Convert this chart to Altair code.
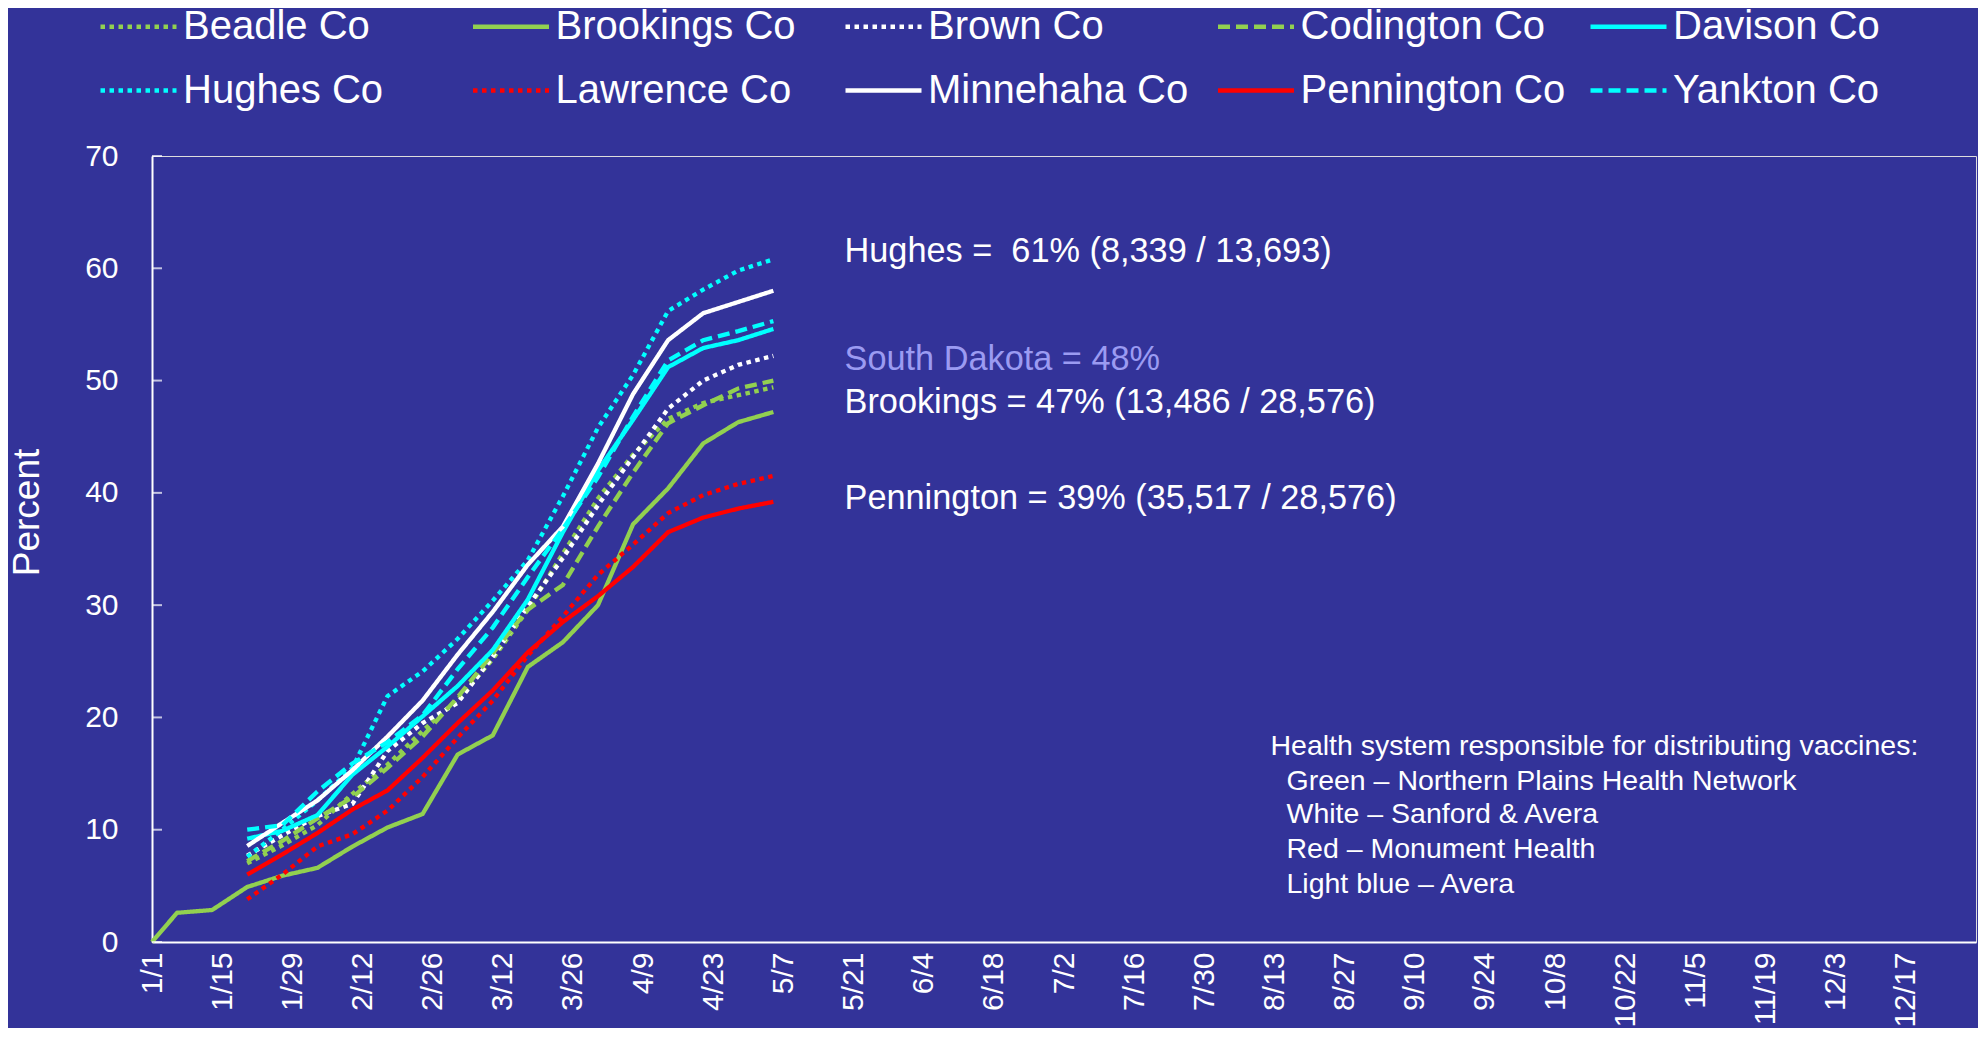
import altair as alt
import pandas as pd

# ---------------- data ----------------
SERIES = ["Beadle Co", "Brookings Co", "Brown Co", "Codington Co", "Davison Co",
          "Hughes Co", "Lawrence Co", "Minnehaha Co", "Pennington Co", "Yankton Co"]

BROOKINGS_DATES = ["2021-01-01", "2021-01-06", "2021-01-13", "2021-01-20", "2021-01-27",
                   "2021-02-03", "2021-02-10", "2021-02-17", "2021-02-24", "2021-03-03",
                   "2021-03-10", "2021-03-17", "2021-03-24", "2021-03-31", "2021-04-07",
                   "2021-04-14", "2021-04-21", "2021-04-28", "2021-05-05"]
WEEKLY_DATES = ["2021-01-20", "2021-01-27", "2021-02-03", "2021-02-10", "2021-02-17",
                "2021-02-24", "2021-03-03", "2021-03-10", "2021-03-17", "2021-03-24",
                "2021-03-31", "2021-04-07", "2021-04-14", "2021-04-21", "2021-04-28",
                "2021-05-05"]

BEADLE = [7.0, 8.6, 10.4, 13.2, 15.8, 18.8, 21.6, 25.2, 29.6, 34.6, 39.5, 43.4, 46.6, 48.0, 48.7, 49.4]
BROOKINGS = [0.0, 2.6, 2.85, 4.9, 5.9, 6.6, 8.5, 10.2, 11.4, 16.7, 18.4, 24.5, 26.7, 30.0, 37.2, 40.4, 44.4, 46.3, 47.2]
BROWN = [7.7, 9.5, 11.2, 12.3, 17.0, 19.5, 21.3, 25.4, 29.9, 34.2, 38.9, 43.2, 47.5, 50.0, 51.4, 52.2]
CODINGTON = [7.2, 9.0, 11.0, 12.9, 15.5, 18.3, 21.8, 25.7, 29.6, 31.8, 37.0, 41.8, 46.2, 47.8, 49.3, 50.0]
DAVISON = [9.2, 9.9, 11.3, 14.9, 17.4, 20.1, 22.8, 26.0, 30.5, 36.5, 42.0, 46.5, 51.2, 52.9, 53.6, 54.6]
HUGHES = [7.6, 10.0, 12.6, 15.5, 21.9, 24.1, 27.0, 30.4, 34.0, 39.7, 45.8, 50.5, 56.2, 58.1, 59.8, 60.8]
LAWRENCE = [3.8, 6.0, 8.5, 9.6, 11.7, 14.7, 18.2, 21.5, 25.5, 29.0, 32.7, 35.4, 38.2, 39.8, 40.8, 41.5]
MINNEHAHA = [8.55, 10.6, 12.6, 15.3, 18.3, 21.5, 25.6, 29.4, 33.6, 37.0, 42.6, 48.8, 53.6, 56.0, 57.0, 58.0]
PENNINGTON = [6.0, 7.8, 9.7, 11.8, 13.5, 16.4, 19.5, 22.4, 25.8, 28.5, 30.8, 33.4, 36.5, 37.8, 38.6, 39.2]
YANKTON = [10.0, 10.4, 13.4, 15.9, 17.8, 20.2, 24.3, 28.0, 32.5, 36.8, 41.4, 46.8, 51.8, 53.6, 54.4, 55.3]

X_TICK_DATES = ["2021-01-01", "2021-01-15", "2021-01-29", "2021-02-12", "2021-02-26",
                "2021-03-12", "2021-03-26", "2021-04-09", "2021-04-23", "2021-05-07",
                "2021-05-21", "2021-06-04", "2021-06-18", "2021-07-02", "2021-07-16",
                "2021-07-30", "2021-08-13", "2021-08-27", "2021-09-10", "2021-09-24",
                "2021-10-08", "2021-10-22", "2021-11-05", "2021-11-19", "2021-12-03",
                "2021-12-17"]
Y_TICKS = [0, 10, 20, 30, 40, 50, 60, 70]

COUNTY_NOTES = ["Hughes = \u00a061% (8,339 / 13,693)",
                "Brookings = 47% (13,486 / 28,576)",
                "Pennington = 39% (35,517 / 28,576)"]
COUNTY_NOTE_DATES = ["2021-05-19", "2021-05-19", "2021-05-19"]
COUNTY_NOTE_VALUES = [60.6, 47.1, 38.6]
STATE_NOTE = ["South Dakota = 48%"]
STATE_NOTE_DATES = ["2021-05-19"]
STATE_NOTE_VALUES = [50.9]
HEALTH_TITLE = ["Health system responsible for distributing vaccines:"]
HEALTH_TITLE_DATES = ["2021-08-12"]
HEALTH_TITLE_VALUES = [16.65]
HEALTH_LINES = ["Green \u2013 Northern Plains Health Network",
                "White \u2013 Sanford & Avera",
                "Red \u2013 Monument Health",
                "Light blue \u2013 Avera"]
HEALTH_LINE_DATES = ["2021-08-15", "2021-08-15", "2021-08-15", "2021-08-15"]
HEALTH_LINE_VALUES = [13.54, 10.57, 7.45, 4.39]

# ---------------- styles ----------------
BG = "#333399"
FONT = "Liberation Sans"
GREEN, WHITE, CYAN, RED = "#92D050", "#FFFFFF", "#00FFFF", "#FF0000"
COLORS = [GREEN, GREEN, WHITE, GREEN, CYAN, CYAN, RED, WHITE, RED, CYAN]
DOT, DASH, SOLID = [4.5, 4.5], [12, 6], [1, 0]
DASHES = [DOT, SOLID, DOT, DASH, SOLID, DOT, DOT, SOLID, SOLID, DASH]

# ---------------- tables ----------------
values_by_series = {
    "Beadle Co": (WEEKLY_DATES, BEADLE),
    "Brookings Co": (BROOKINGS_DATES, BROOKINGS),
    "Brown Co": (WEEKLY_DATES, BROWN),
    "Codington Co": (WEEKLY_DATES, CODINGTON),
    "Davison Co": (WEEKLY_DATES, DAVISON),
    "Hughes Co": (WEEKLY_DATES, HUGHES),
    "Lawrence Co": (WEEKLY_DATES, LAWRENCE),
    "Minnehaha Co": (WEEKLY_DATES, MINNEHAHA),
    "Pennington Co": (WEEKLY_DATES, PENNINGTON),
    "Yankton Co": (WEEKLY_DATES, YANKTON),
}
rows = []
for name in SERIES:
    dates, vals = values_by_series[name]
    for d, v in zip(dates, vals):
        rows.append({"series": name, "date": d, "pct": v})
df = pd.DataFrame(rows)
df["date"] = pd.to_datetime(df["date"])


def note_df(texts, dates, vals):
    return pd.DataFrame({"text": texts, "date": pd.to_datetime(dates), "pct": vals})


def dt(s):
    y, m, d = (int(p) for p in s.split("-"))
    return alt.DateTime(year=y, month=m, date=d)


x_scale = alt.Scale(domain=[dt("2021-01-01"), dt("2021-12-31")])
y_scale = alt.Scale(domain=[0, 70], nice=False)

legend = alt.Legend(
    title=None, orient="none", legendX=-54, legendY=-170,
    direction="horizontal", columns=5, gridAlign="all",
    symbolType="stroke", symbolSize=5776, symbolStrokeWidth=4.5,
    labelFontSize=40, labelColor="white", labelFont=FONT, labelOffset=4,
    labelLimit=600, columnPadding=15.5, rowPadding=3, padding=0,
)

x_axis = alt.Axis(
    values=[dt(s) for s in X_TICK_DATES], format="%-m/%-d", labelAngle=270,
    labelAlign="right", labelBaseline="middle", labelPadding=10,
    labelFontSize=30, labelColor="white", labelFont=FONT, labelFlush=False,
    labelOverlap=False, labelBound=False, ticks=False, grid=False,
    domainColor="white", domainWidth=2, title=None,
)
y_axis = alt.Axis(
    values=Y_TICKS, labelFontSize=30, labelColor="white", labelFont=FONT,
    labelPadding=34, ticks=False, grid=False, domainColor="white", domainWidth=2,
    title="Percent", titleFontSize=37, titleColor="white", titleFont=FONT,
    titleFontWeight="normal", titleAngle=270, titleX=-114, titleY=356,
    titleBaseline="alphabetic", titleAlign="center",
)

lines = alt.Chart(df).mark_line(strokeWidth=4.3).encode(
    x=alt.X("date:T", scale=x_scale, axis=x_axis),
    y=alt.Y("pct:Q", scale=y_scale, axis=y_axis),
    color=alt.Color("series:N", scale=alt.Scale(domain=SERIES, range=COLORS), legend=legend),
    strokeDash=alt.StrokeDash("series:N", scale=alt.Scale(domain=SERIES, range=DASHES), legend=legend),
    order=alt.Order("date:T"),
)

yticks = alt.Chart(pd.DataFrame({"pct": Y_TICKS})).mark_tick(
    orient="horizontal", color="white", size=10, thickness=2, xOffset=5
).encode(
    x=alt.X(datum=dt("2021-01-01"), type="temporal"),
    y="pct:Q",
)

county_notes = alt.Chart(note_df(COUNTY_NOTES, COUNTY_NOTE_DATES, COUNTY_NOTE_VALUES)).mark_text(
    align="left", baseline="alphabetic", fontSize=34.3, font=FONT, color="white", dx=1
).encode(x="date:T", y="pct:Q", text="text:N")

state_note = alt.Chart(note_df(STATE_NOTE, STATE_NOTE_DATES, STATE_NOTE_VALUES)).mark_text(
    align="left", baseline="alphabetic", fontSize=34.3, font=FONT, color="#9B9BF2", dx=1
).encode(x="date:T", y="pct:Q", text="text:N")

health_title = alt.Chart(note_df(HEALTH_TITLE, HEALTH_TITLE_DATES, HEALTH_TITLE_VALUES)).mark_text(
    align="left", baseline="alphabetic", fontSize=28.5, font=FONT, color="white", dx=1
).encode(x="date:T", y="pct:Q", text="text:N")

health_lines = alt.Chart(note_df(HEALTH_LINES, HEALTH_LINE_DATES, HEALTH_LINE_VALUES)).mark_text(
    align="left", baseline="alphabetic", fontSize=28.5, font=FONT, color="white", dx=2
).encode(x="date:T", y="pct:Q", text="text:N")

chart = alt.layer(
    lines, yticks, county_notes, state_note, health_title, health_lines
).properties(
    width=1824, height=786,
    padding={"left": 144, "top": 148, "right": 2, "bottom": 86},
    autosize=alt.AutoSizeParams(type="none"),
    background=BG,
).configure_view(stroke=None).configure(font=FONT)

chart.save("out.html", embed_options={"renderer": "svg", "actions": False})
